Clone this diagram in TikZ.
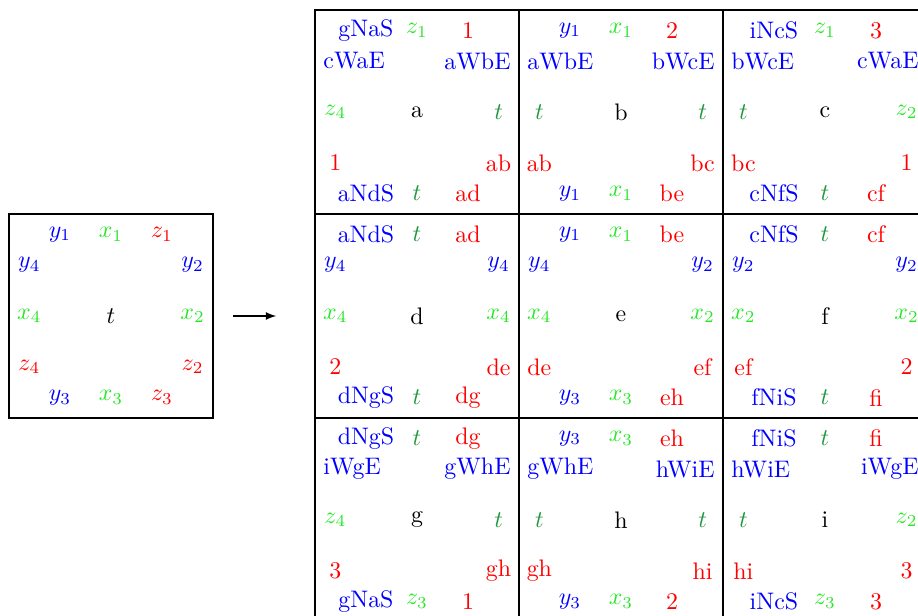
\documentclass[tikz,border=0pt]{standalone}
\usetikzlibrary{arrows}
\definecolor{lgreen}{RGB}{40,230,40}
\definecolor{dgreen}{RGB}{30,150,60}
\newcommand\tee{\textcolor{dgreen}{$t$}}
\tikzset{
  lbl/.style={inner sep=3.33pt},
  cb/.style={lbl,text=blue},
  cg/.style={lbl,text=lgreen},
  cr/.style={lbl,text=red},
  wordW/.style={lbl,text=blue,anchor=west},
  wordE/.style={lbl,text=blue,anchor=east},
  gridline/.style={line width=0.6pt},
  srcbox/.style={line width=0.5pt}
}
% top and bottom rows: prefix, blue, green, red
\newcommand\rowtop[4]{%
  \node[cb] (#1t1) at (1,3.6) {#2};
  \node[cg] (#1t2) at (2,3.6) {#3};
  \node[cr] (#1t3) at (3,3.6) {#4};}
\newcommand\rowbot[4]{%
  \node[cb] (#1b1) at (1,0.4) {#2};
  \node[cg] (#1b2) at (2,0.4) {#3};
  \node[cr] (#1b3) at (3,0.4) {#4};}
\begin{document}
\begin{tikzpicture}[x=0.75cm,y=0.75cm]
\useasboundingbox (-0.176,0.118) rectangle (17.824,12.196);
% source square
\begin{scope}[shift={(0,4)}]
  \draw[srcbox] (0,0) rectangle (4,4);
  \node (s-c) at (2,2) {$t$};
  \rowtop{s-}{$y_1$}{$x_1$}{$z_1$}
  \rowbot{s-}{$y_3$}{$x_3$}{$z_3$}
  \node[cb] (s-l1) at (0.4,3) {$y_4$};
  \node[cg] (s-l2) at (0.4,2) {$x_4$};
  \node[cr] (s-l3) at (0.4,1) {$z_4$};
  \node[cb] (s-r1) at (3.6,3) {$y_2$};
  \node[cg] (s-r2) at (3.6,2) {$x_2$};
  \node[cr] (s-r3) at (3.6,1) {$z_2$};
\end{scope}
\coordinate (arrS) at (4.4,6);
\coordinate (arrE) at (5.24,6);
\draw[-latex, line width=0.5pt] (arrS) -- (arrE);
% grid of cells
\foreach \cx in {6,10,14}{
  \foreach \cy in {0,4,8}{
    \draw[gridline] (\cx,\cy) rectangle ++(4,4);
  }
}
% cell a
\begin{scope}[shift={(6,8)}]
  \node (a-c) at (2,2) {a};
  \rowtop{a-}{gNaS}{$z_1$}{1}
  \node[wordW] (a-l1) at (0,3) {cWaE};
  \node[cg] (a-l2) at (0.4,2) {$z_4$};
  \node[cr] (a-l3) at (0.4,1) {1};
  \node[wordE] (a-r1) at (4,3) {aWbE};
  \node[lbl] (a-r2) at (3.6,2) {\tee};
  \node[cr] (a-r3) at (3.6,1) {ab};
  \rowbot{a-}{aNdS}{\tee}{ad}
\end{scope}
% cell b
\begin{scope}[shift={(10,8)}]
  \node (b-c) at (2,2) {b};
  \rowtop{b-}{$y_1$}{$x_1$}{2}
  \node[wordW] (b-l1) at (0,3) {aWbE};
  \node[lbl] (b-l2) at (0.4,2) {\tee};
  \node[cr] (b-l3) at (0.4,1) {ab};
  \node[wordE] (b-r1) at (4,3) {bWcE};
  \node[lbl] (b-r2) at (3.6,2) {\tee};
  \node[cr] (b-r3) at (3.6,1) {bc};
  \rowbot{b-}{$y_1$}{$x_1$}{be}
\end{scope}
% cell c
\begin{scope}[shift={(14,8)}]
  \node (c-c) at (2,2) {c};
  \rowtop{c-}{iNcS}{$z_1$}{3}
  \node[wordW] (c-l1) at (0,3) {bWcE};
  \node[lbl] (c-l2) at (0.4,2) {\tee};
  \node[cr] (c-l3) at (0.4,1) {bc};
  \node[wordE] (c-r1) at (4,3) {cWaE};
  \node[cg] (c-r2) at (3.6,2) {$z_2$};
  \node[cr] (c-r3) at (3.6,1) {1};
  \rowbot{c-}{cNfS}{\tee}{cf}
\end{scope}
% cell d
\begin{scope}[shift={(6,4)}]
  \node (d-c) at (2,2) {d};
  \rowtop{d-}{aNdS}{\tee}{ad}
  \node[cb] (d-l1) at (0.4,3) {$y_4$};
  \node[cg] (d-l2) at (0.4,2) {$x_4$};
  \node[cr] (d-l3) at (0.4,1) {2};
  \node[cb] (d-r1) at (3.6,3) {$y_4$};
  \node[cg] (d-r2) at (3.6,2) {$x_4$};
  \node[cr] (d-r3) at (3.6,1) {de};
  \rowbot{d-}{dNgS}{\tee}{dg}
\end{scope}
% cell e
\begin{scope}[shift={(10,4)}]
  \node (e-c) at (2,2) {e};
  \rowtop{e-}{$y_1$}{$x_1$}{be}
  \node[cb] (e-l1) at (0.4,3) {$y_4$};
  \node[cg] (e-l2) at (0.4,2) {$x_4$};
  \node[cr] (e-l3) at (0.4,1) {de};
  \node[cb] (e-r1) at (3.6,3) {$y_2$};
  \node[cg] (e-r2) at (3.6,2) {$x_2$};
  \node[cr] (e-r3) at (3.6,1) {ef};
  \rowbot{e-}{$y_3$}{$x_3$}{eh}
\end{scope}
% cell f
\begin{scope}[shift={(14,4)}]
  \node (f-c) at (2,2) {f};
  \rowtop{f-}{cNfS}{\tee}{cf}
  \node[cb] (f-l1) at (0.4,3) {$y_2$};
  \node[cg] (f-l2) at (0.4,2) {$x_2$};
  \node[cr] (f-l3) at (0.4,1) {ef};
  \node[cb] (f-r1) at (3.6,3) {$y_2$};
  \node[cg] (f-r2) at (3.6,2) {$x_2$};
  \node[cr] (f-r3) at (3.6,1) {2};
  \rowbot{f-}{fNiS}{\tee}{fi}
\end{scope}
% cell g
\begin{scope}[shift={(6,0)}]
  \node (g-c) at (2,2) {g};
  \rowtop{g-}{dNgS}{\tee}{dg}
  \node[wordW] (g-l1) at (0,3) {iWgE};
  \node[cg] (g-l2) at (0.4,2) {$z_4$};
  \node[cr] (g-l3) at (0.4,1) {3};
  \node[wordE] (g-r1) at (4,3) {gWhE};
  \node[lbl] (g-r2) at (3.6,2) {\tee};
  \node[cr] (g-r3) at (3.6,1) {gh};
  \rowbot{g-}{gNaS}{$z_3$}{1}
\end{scope}
% cell h
\begin{scope}[shift={(10,0)}]
  \node (h-c) at (2,2) {h};
  \rowtop{h-}{$y_3$}{$x_3$}{eh}
  \node[wordW] (h-l1) at (0,3) {gWhE};
  \node[lbl] (h-l2) at (0.4,2) {\tee};
  \node[cr] (h-l3) at (0.4,1) {gh};
  \node[wordE] (h-r1) at (4,3) {hWiE};
  \node[lbl] (h-r2) at (3.6,2) {\tee};
  \node[cr] (h-r3) at (3.6,1) {hi};
  \rowbot{h-}{$y_3$}{$x_3$}{2}
\end{scope}
% cell i
\begin{scope}[shift={(14,0)}]
  \node (i-c) at (2,2) {i};
  \rowtop{i-}{fNiS}{\tee}{fi}
  \node[wordW] (i-l1) at (0,3) {hWiE};
  \node[lbl] (i-l2) at (0.4,2) {\tee};
  \node[cr] (i-l3) at (0.4,1) {hi};
  \node[wordE] (i-r1) at (4,3) {iWgE};
  \node[cg] (i-r2) at (3.6,2) {$z_2$};
  \node[cr] (i-r3) at (3.6,1) {3};
  \rowbot{i-}{iNcS}{$z_3$}{3}
\end{scope}
\end{tikzpicture}
\end{document}
